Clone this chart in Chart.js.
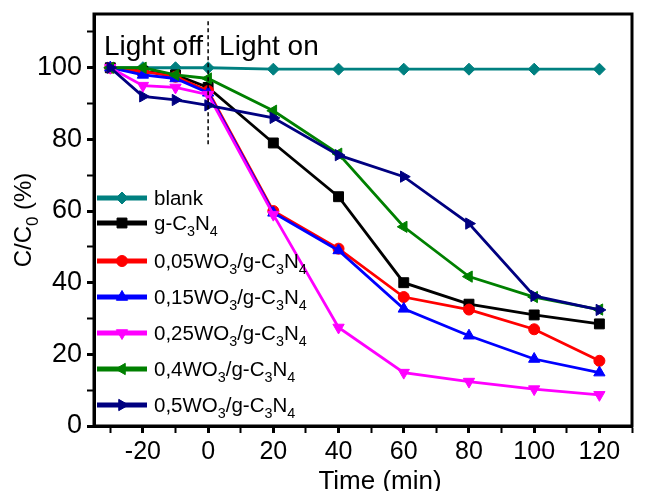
<!DOCTYPE html>
<html>
<head>
<meta charset="utf-8">
<script src="https://cdn.jsdelivr.net/npm/chart.js@4.4.1/dist/chart.umd.min.js"></script>
<style>
html, body { margin: 0; padding: 0; background: #fff; }
#wrap { width: 645px; height: 491px; }
</style>
</head>
<body>
<div id="wrap"><canvas id="chart" width="645" height="491"></canvas></div>
<script>
// data (C/C0 in %)
const times = [-30, -20, -10, 0, 20, 40, 60, 80, 100, 120];
const seriesNames = ['blank', 'g-C_3N_4', '0,05WO_3/g-C_3N_4', '0,15WO_3/g-C_3N_4',
    '0,25WO_3/g-C_3N_4', '0,4WO_3/g-C_3N_4', '0,5WO_3/g-C_3N_4'];
const blank = [100, 100, 100, 100, 99.6, 99.6, 99.6, 99.6, 99.6, 99.6];
const gC3N4 = [100, 99, 98, 94.5, 79, 64, 40, 34, 31, 28.5];
const wo005 = [100, 99, 97.5, 93.5, 60, 49.5, 36, 32.5, 27, 18.2];
const wo015 = [100, 98, 97, 93, 59.5, 49, 32.7, 25.2, 18.7, 14.9];
const wo025 = [100, 95, 94.5, 92.5, 59, 27.5, 14.9, 12.4, 10.3, 8.7];
const wo04 = [100, 100, 98, 97, 88, 76, 55.6, 41.7, 36, 32.5];
const wo05 = [100, 92, 91, 89.5, 86, 75.6, 69.6, 56.5, 36.3, 32.4];

const xTicks = [-30, -20, -10, 0, 10, 20, 30, 40, 50, 60, 70, 80, 90, 100, 110, 120, 130];
const xTickLabels = [-20, 0, 20, 40, 60, 80, 100, 120];
const yTicks = [0, 10, 20, 30, 40, 50, 60, 70, 80, 90, 100, 110];
const yTickLabels = [0, 20, 40, 60, 80, 100];

const allSeries = [blank, gC3N4, wo005, wo015, wo025, wo04, wo05];
const colors = ['#008080', '#000000', '#ff0000', '#0000ff', '#ff00ff', '#008000', '#000080'];
const markers = [
    { style: 'rectRot', rot: 0, r: 6 },
    { style: 'rect', rot: 0, r: 7 },
    { style: 'circle', rot: 0, r: 5.5 },
    { style: 'triangle', rot: 0, r: 6.5 },
    { style: 'triangle', rot: 180, r: 6.5 },
    { style: 'triangle', rot: -90, r: 6.5 },
    { style: 'triangle', rot: 90, r: 6.5 }
];

const FONT = '"Liberation Sans", Arial, sans-serif';

// text with _x subscripts
function drawRich(ctx, text, x, y, size, align) {
    const parts = [];
    for (let i = 0; i < text.length; i++) {
        if (text[i] === '_') {
            parts.push({ t: text[i + 1], sub: true });
            i++;
        } else {
            const last = parts[parts.length - 1];
            if (last && !last.sub) last.t += text[i];
            else parts.push({ t: text[i], sub: false });
        }
    }
    let w = 0;
    parts.forEach(p => {
        ctx.font = (p.sub ? size * 0.7 : size) + 'px ' + FONT;
        p.w = ctx.measureText(p.t).width;
        w += p.w;
    });
    let cx = align === 'right' ? x - w : align === 'center' ? x - w / 2 : x;
    ctx.textAlign = 'left';
    ctx.textBaseline = 'alphabetic';
    parts.forEach(p => {
        ctx.font = (p.sub ? size * 0.7 : size) + 'px ' + FONT;
        ctx.fillText(p.t, cx, p.sub ? y + size * 0.3 : y);
        cx += p.w;
    });
}

const decorations = {
    id: 'decorations',
    afterDraw(chart) {
        const ctx = chart.ctx;
        const a = chart.chartArea;
        const xs = chart.scales.x, ys = chart.scales.y;
        ctx.save();
        ctx.fillStyle = '#000';
        ctx.strokeStyle = '#000';

        // frame
        ctx.lineWidth = 3;
        ctx.strokeRect(a.left, a.top, a.right - a.left, a.bottom - a.top);

        // light off / on divider
        const x0 = xs.getPixelForValue(0);
        ctx.lineWidth = 1.5;
        ctx.setLineDash([4, 3]);
        ctx.beginPath();
        ctx.moveTo(x0, ys.getPixelForValue(113));
        ctx.lineTo(x0, ys.getPixelForValue(78));
        ctx.stroke();
        ctx.setLineDash([]);
        drawRich(ctx, 'Light off', x0 - 5, 55, 28, 'right');
        drawRich(ctx, 'Light on', x0 + 11, 55, 28, 'left');

        // legend
        const rowsY = [198, 223, 261, 297, 333, 369, 405];
        seriesNames.forEach((name, i) => {
            const y = rowsY[i];
            ctx.strokeStyle = colors[i];
            ctx.fillStyle = colors[i];
            ctx.lineWidth = 5;
            ctx.beginPath();
            ctx.moveTo(97, y);
            ctx.lineTo(147, y);
            ctx.stroke();
            ctx.lineWidth = 1;
            Chart.helpers.drawPoint(ctx, {
                pointStyle: markers[i].style, rotation: markers[i].rot,
                radius: markers[i].r, borderWidth: 1
            }, 122, y);
            ctx.fillStyle = '#000';
            drawRich(ctx, name, 154, y + 7, 20.5, 'left');
        });

        // axis titles
        ctx.fillStyle = '#000';
        drawRich(ctx, 'Time (min)', 380, 489, 26, 'center');
        ctx.translate(31, (a.top + a.bottom) / 2);
        ctx.rotate(-Math.PI / 2);
        drawRich(ctx, 'C/C_0 (%)', 0, 0, 24, 'center');
        ctx.restore();
    }
};

const ctx = document.getElementById('chart').getContext('2d');
const chart = new Chart(ctx, {
    type: 'line',
    data: {
        datasets: allSeries.map((vals, i) => ({
            label: seriesNames[i],
            data: times.map((t, k) => ({ x: t, y: vals[k] })),
            borderColor: colors[i],
            backgroundColor: colors[i],
            borderWidth: 2.8,
            pointStyle: markers[i].style,
            pointRotation: markers[i].rot,
            pointRadius: markers[i].r,
            pointBorderWidth: 1,
            tension: 0,
            order: 7 - i
        }))
    },
    options: {
        responsive: false,
        animation: false,
        layout: { padding: { top: 14, right: 13, left: 0, bottom: 0 } },
        plugins: {
            legend: { display: false },
            tooltip: { enabled: false }
        },
        scales: {
            x: {
                type: 'linear',
                min: -35,
                max: 130,
                afterBuildTicks: s => { s.ticks = xTicks.map(v => ({ value: v })); },
                afterFit: s => { s.height = 65; s.paddingLeft = 0; s.paddingRight = 0; },
                grid: {
                    drawOnChartArea: false,
                    tickLength: 7,
                    tickColor: '#000',
                    tickWidth: c => xTickLabels.includes(c.tick && c.tick.value) ? 3 : 2
                },
                border: { color: '#000', width: 3 },
                ticks: {
                    color: '#000',
                    font: { family: FONT, size: 25 },
                    padding: 4,
                    autoSkip: false,
                    maxRotation: 0,
                    callback: v => xTickLabels.includes(v) ? String(v) : ''
                }
            },
            y: {
                min: 0,
                max: 115,
                afterBuildTicks: s => { s.ticks = yTicks.map(v => ({ value: v })); },
                afterFit: s => { s.width = 94; s.paddingTop = 0; s.paddingBottom = 0; },
                grid: {
                    drawOnChartArea: false,
                    tickLength: 7,
                    tickColor: '#000',
                    tickWidth: c => yTickLabels.includes(c.tick && c.tick.value) ? 3 : 2
                },
                border: { color: '#000', width: 3 },
                ticks: {
                    color: '#000',
                    font: { family: FONT, size: 27 },
                    padding: 5,
                    autoSkip: false,
                    callback: v => yTickLabels.includes(v) ? String(v) : ''
                }
            }
        }
    },
    plugins: [decorations]
});
</script>
</body>
</html>
